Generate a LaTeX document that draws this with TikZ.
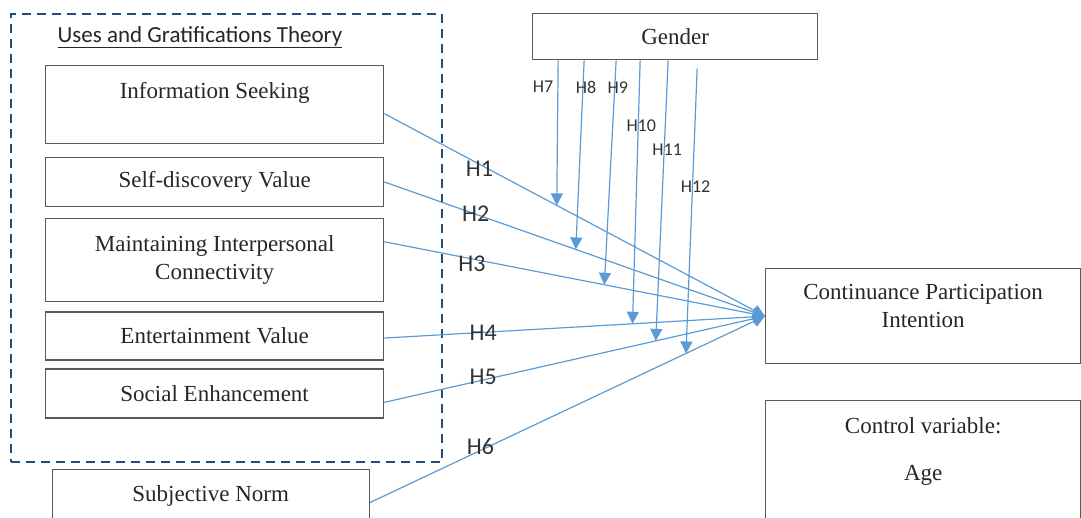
\documentclass[tikz,border=0pt]{standalone}
\usepackage{fontspec}
\setmainfont{Liberation Serif}
\newfontfamily\calibri{Carlito}
\usetikzlibrary{positioning, arrows.meta}
\definecolor{hblue}{RGB}{91,155,213}
\definecolor{frameblue}{RGB}{31,78,121}
\definecolor{boxgray}{RGB}{89,89,89}

\begin{document}
\begin{tikzpicture}[x=1pt, y=-1pt,
    box/.style={draw=boxgray, line width=1.3pt, rectangle, minimum width=338pt, align=center, text=black!85, font=\fontsize{23}{28}\selectfont},
    toptext/.style={anchor=north, inner sep=0pt, align=center, text=black!85, font=\fontsize{23}{28}\selectfont, yshift=#1},
    harrow/.style={draw=hblue, line width=1.2pt, -{Triangle[length=12pt, width=12pt]}},
    hlabel/.style={font=\calibri\fontsize{24}{28}\selectfont, text=black!80, inner sep=0pt},
    glabel/.style={font=\calibri\fontsize{18}{22}\selectfont, text=black!80, inner sep=0pt, xshift=3pt}]
                    \useasboundingbox (0,0) rectangle (1081,517);

                    \node[draw=frameblue, line width=2pt, dash pattern=on 9pt off 6pt, minimum width=431pt, minimum height=448pt, anchor=north west] (ugt) at (10,13) {};
                    \node[font=\calibri\fontsize{23}{28}\selectfont, text=black!85] (ugtname) at (200,37) {\underline{Uses and Gratifications Theory}};

                    \node[box, minimum height=78pt, anchor=north west, label={[toptext=-17pt]north:Information Seeking}] (info) at (45,65) {};
                    \node[box, minimum height=49pt] (self) [below=12.5pt of info] {Self-discovery Value};
                    \node[box, minimum height=83pt] (maint) [below=10.5pt of self] {Maintaining Interpersonal\\Connectivity};
                    \node[box, minimum height=48pt] (ent) [below=9.5pt of maint] {Entertainment Value};
                    \node[box, minimum height=49pt] (soc) [below=7.5pt of ent] {Social Enhancement};
                    \node[box, minimum width=317pt, minimum height=52pt] (subj) [below=50.5pt of soc, xshift=-4pt] {Subjective Norm};

                    \node[box, minimum width=285pt, minimum height=46pt, anchor=north west] (gender) at (532,13) {Gender};
                    \node[box, minimum width=315pt, minimum height=95pt, anchor=north west, label={[toptext=-16pt]north:{Continuance Participation\\Intention}}] (cpi) at (765,268) {};
                    \node[box, minimum width=315pt, minimum height=130pt, anchor=north west, label={[toptext=-17pt]north:{Control variable:\\[19pt]Age}}] (ctrl) at (765,400) {};

                    \draw[harrow] ([yshift=-9pt]info.east) -- node[hlabel, pos=0.25, yshift=-4pt] {H1} coordinate[pos=0.453] (m7) (cpi.west);
                    \draw[harrow] (self.east) -- node[hlabel, pos=0.24] {H2} coordinate[pos=0.503] (m8) (cpi.west);
                    \draw[harrow] ([yshift=18pt]maint.east) -- node[hlabel, pos=0.23, yshift=-5pt] {H3} coordinate[pos=0.578] (m9) (cpi.west);
                    \draw[harrow] ([yshift=-2pt]ent.east) -- node[hlabel, pos=0.26] {H4} coordinate[pos=0.652] (m10) (cpi.west);
                    \draw[harrow] ([yshift=-9pt]soc.east) -- node[hlabel, pos=0.26, yshift=3pt] {H5} coordinate[pos=0.713] (m11) (cpi.west);
                    \draw[harrow] ([yshift=-7pt]subj.east) -- node[hlabel, pos=0.28, yshift=4pt] {H6} coordinate[pos=0.80] (m12) (cpi.west);

                    \draw[harrow] ([xshift=-117pt]gender.south) -- node[glabel, anchor=east, xshift=-7pt, pos=0.185] {H7} (m7);
                    \draw[harrow] ([xshift=-91pt]gender.south) -- node[glabel, pos=0.142] {H8} (m8);
                    \draw[harrow] ([xshift=-59pt]gender.south) -- node[glabel, pos=0.12] {H9} (m9);
                    \draw[harrow] ([xshift=-35pt]gender.south) -- node[glabel, pos=0.25] {H10} (m10);
                    \draw[harrow] ([xshift=-7pt]gender.south) -- node[glabel, pos=0.32] {H11} (m11);
                    \draw[harrow] ([xshift=22pt, yshift=-8pt]gender.south) -- node[glabel, pos=0.415] {H12} (m12);
                \end{tikzpicture}
\end{document}
